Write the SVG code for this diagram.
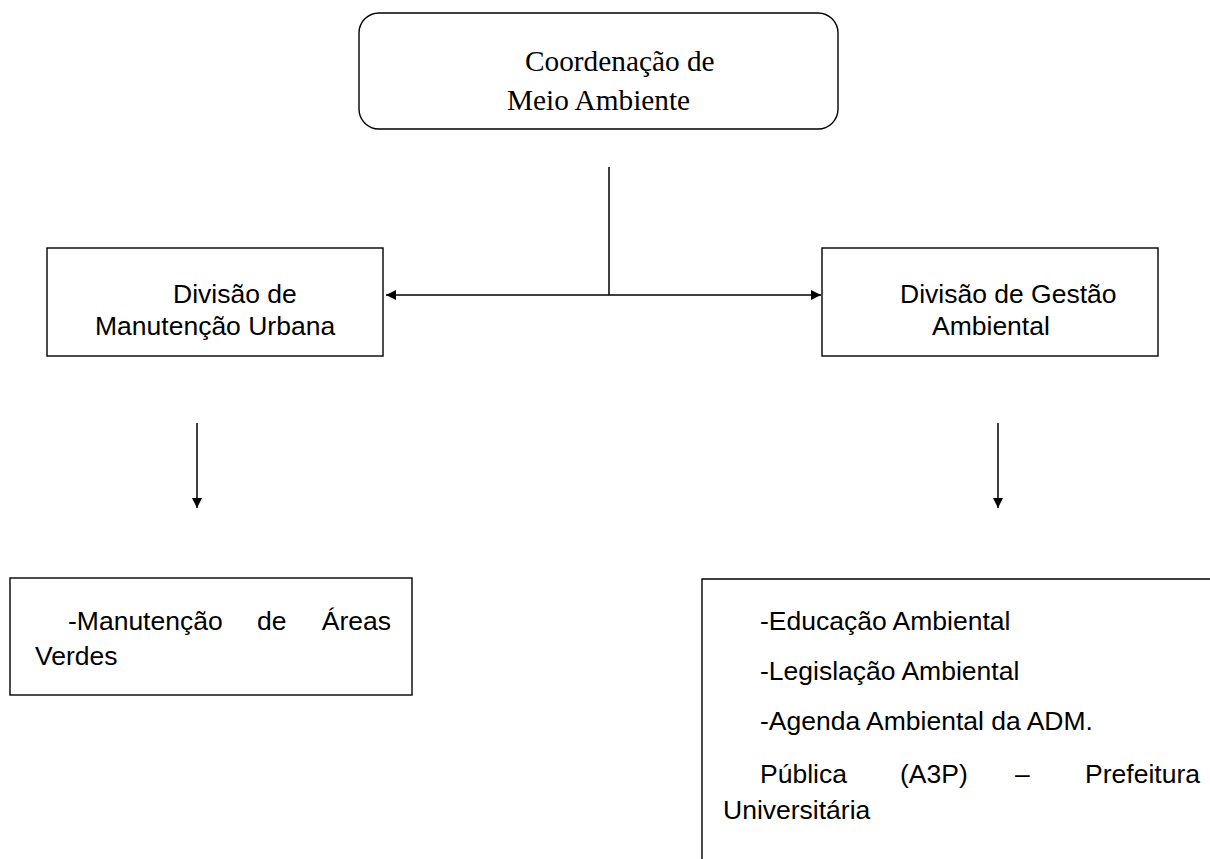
<svg xmlns="http://www.w3.org/2000/svg" width="1210" height="859" viewBox="0 0 1210 859">
<style>
.box{fill:#fff;stroke:#000;stroke-width:1.4}
.serif{font-family:"Liberation Serif","Times New Roman",serif;font-size:29.3px;fill:#000}
.sans{font-family:"Liberation Sans",Arial,sans-serif;font-size:26.5px;fill:#000}
.conn{stroke:#000;stroke-width:1.5;fill:none}
</style>
<defs>
<marker id="arr" viewBox="0 0 10 10" refX="10" refY="5" markerWidth="11" markerHeight="10" markerUnits="userSpaceOnUse" orient="auto">
<path d="M0,0 L10,5 L0,10 z" fill="#000"/>
</marker>
</defs>
<rect width="1210" height="859" fill="#fff"/>
<g id="coordenacao">
<rect class="box" x="359" y="13" width="479" height="116" rx="20" ry="20"/>
<text class="serif" x="525" y="71">Coordenação de</text>
<text class="serif" x="507" y="110">Meio Ambiente</text>
</g>
<g id="div-manutencao">
<rect class="box" x="47" y="248" width="336" height="108"/>
<text class="sans" x="173" y="303">Divisão de</text>
<text class="sans" x="95" y="335">Manutenção Urbana</text>
</g>
<g id="div-gestao">
<rect class="box" x="822" y="248" width="336" height="108"/>
<text class="sans" x="900" y="303">Divisão de Gestão</text>
<text class="sans" x="932" y="335">Ambiental</text>
</g>
<g id="areas-verdes">
<rect class="box" x="10" y="578" width="402" height="117"/>
<text class="sans" x="68" y="630">-Manutenção</text>
<text class="sans" x="257" y="630">de</text>
<text class="sans" x="391" y="630" text-anchor="end">Áreas</text>
<text class="sans" x="35" y="665">Verdes</text>
</g>
<g id="gestao-itens">
<path class="box" d="M702,870 L702,579 L1215,579" fill="none"/>
<text class="sans" x="760" y="630">-Educação Ambiental</text>
<text class="sans" x="760" y="680">-Legislação Ambiental</text>
<text class="sans" x="760" y="730">-Agenda Ambiental da ADM.</text>
<text class="sans" x="760" y="783">Pública</text>
<text class="sans" x="900" y="783">(A3P)</text>
<text class="sans" x="1015" y="783">–</text>
<text class="sans" x="1200" y="783" text-anchor="end">Prefeitura</text>
<text class="sans" x="723" y="819">Universitária</text>
</g>
<g id="connectors">
<line class="conn" x1="609" y1="167" x2="609" y2="295"/>
<line class="conn" x1="609" y1="295" x2="386" y2="295" marker-end="url(#arr)"/>
<line class="conn" x1="609" y1="295" x2="821" y2="295" marker-end="url(#arr)"/>
<line class="conn" x1="197" y1="423" x2="197" y2="508" marker-end="url(#arr)"/>
<line class="conn" x1="998" y1="423" x2="998" y2="508" marker-end="url(#arr)"/>
</g>
</svg>
